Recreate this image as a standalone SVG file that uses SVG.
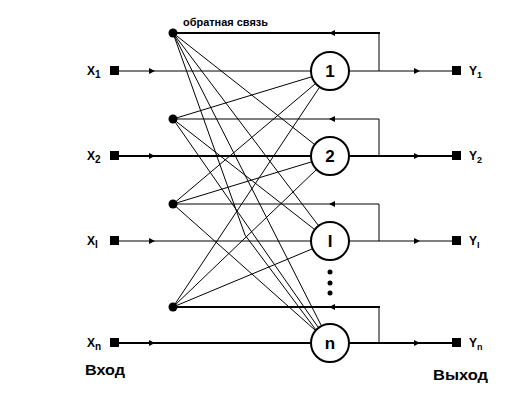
<svg xmlns="http://www.w3.org/2000/svg" width="515" height="411" viewBox="0 0 515 411">
<defs>
<style>
.ln{stroke:#000;fill:none;stroke-width:1}
.bd{stroke:#000;fill:none;stroke-width:2}
.cr{stroke:#000;fill:#fff;stroke-width:2}
.lbl{font-family:"Liberation Sans",Arial,sans-serif;font-weight:bold;fill:#000}
.nt{font-family:"Liberation Sans",Arial,sans-serif;font-weight:bold;font-size:17px;fill:#000;text-anchor:middle}
</style>
<path id="ar" d="M-3,-3 L3,0 L-3,3 Z" fill="#000"/>
<path id="al" d="M3,-3 L-3,0 L3,3 Z" fill="#000"/>
</defs>
<rect width="515" height="411" fill="#fff"/>

<g id="connectors">
<line class="ln" x1="119" y1="71" x2="311" y2="71"/>
<line class="bd" x1="119" y1="156" x2="311" y2="156"/>
<line class="ln" x1="119" y1="241" x2="311" y2="241"/>
<line class="bd" x1="119" y1="343" x2="311" y2="343"/>
<use href="#ar" x="152" y="71"/>
<use href="#ar" x="152" y="156"/>
<use href="#ar" x="152" y="241"/>
<use href="#ar" x="152" y="343"/>
<line class="ln" x1="349" y1="71" x2="453" y2="71"/>
<line class="bd" x1="349" y1="156" x2="453" y2="156"/>
<line class="ln" x1="349" y1="241" x2="453" y2="241"/>
<line class="bd" x1="349" y1="343" x2="453" y2="343"/>
<use href="#ar" x="417" y="71"/>
<use href="#ar" x="417" y="156"/>
<use href="#ar" x="417" y="241"/>
<use href="#ar" x="417" y="343"/>
<polyline class="ln" points="379,71 379,33"/>
<line class="bd" x1="173" y1="33" x2="380" y2="33"/>
<polyline class="ln" points="173,119 379,119 379,156"/>
<polyline class="ln" points="173,204 379,204 379,241"/>
<line class="ln" x1="379" y1="307" x2="379" y2="343"/>
<line class="bd" x1="173" y1="307" x2="380" y2="307"/>
<use href="#al" x="332" y="33"/>
<use href="#al" x="332" y="119"/>
<use href="#al" x="332" y="204"/>
<use href="#al" x="332" y="307"/>
<line class="ln" x1="173" y1="33" x2="314" y2="144"/>
<line class="ln" x1="173" y1="33" x2="318" y2="225"/>
<line class="ln" x1="173" y1="33" x2="321" y2="325"/>
<polyline class="ln" points="173,33 245,235 316,330"/>
<line class="ln" x1="173" y1="119" x2="311" y2="77"/>
<line class="ln" x1="173" y1="119" x2="314" y2="229"/>
<line class="ln" x1="173" y1="119" x2="318" y2="327"/>
<line class="ln" x1="173" y1="204" x2="315" y2="84"/>
<line class="ln" x1="173" y1="204" x2="311" y2="162"/>
<line class="ln" x1="173" y1="204" x2="315" y2="330"/>
<line class="ln" x1="173" y1="307" x2="319" y2="88"/>
<line class="ln" x1="173" y1="307" x2="316" y2="170"/>
<line class="ln" x1="173" y1="307" x2="312" y2="249"/>
</g>

<g id="feedback-dots">
<circle cx="173" cy="33" r="4.5"/>
<circle cx="173" cy="119" r="4.5"/>
<circle cx="173" cy="204" r="4.5"/>
<circle cx="173" cy="307" r="4.5"/>
</g>

<g id="inputs">
<rect x="110" y="66" width="9" height="9"/>
<rect x="110" y="151" width="9" height="9"/>
<rect x="110" y="236" width="9" height="9"/>
<rect x="110" y="338" width="9" height="9"/>
<text class="lbl" x="87" y="75" font-size="12">X<tspan font-size="10" dy="3">1</tspan></text>
<text class="lbl" x="87" y="160" font-size="12">X<tspan font-size="10" dy="3">2</tspan></text>
<text class="lbl" x="87" y="245" font-size="12">X<tspan font-size="10" dy="3">I</tspan></text>
<text class="lbl" x="87" y="347" font-size="12">X<tspan font-size="10" dy="3">n</tspan></text>
</g>

<g id="outputs">
<rect x="452" y="66" width="9" height="9"/>
<rect x="452" y="151" width="9" height="9"/>
<rect x="452" y="236" width="9" height="9"/>
<rect x="452" y="338" width="9" height="9"/>
<text class="lbl" x="469" y="75" font-size="12">Y<tspan font-size="9" dy="3">1</tspan></text>
<text class="lbl" x="469" y="160" font-size="12">Y<tspan font-size="9" dy="3">2</tspan></text>
<text class="lbl" x="469" y="245" font-size="12">Y<tspan font-size="9" dy="3">I</tspan></text>
<text class="lbl" x="469" y="347" font-size="12">Y<tspan font-size="9" dy="3">n</tspan></text>
</g>

<g id="neuron-1"><circle class="cr" cx="330" cy="71" r="19"/><text class="nt" x="330" y="77">1</text></g>
<g id="neuron-2"><circle class="cr" cx="330" cy="156" r="19"/><text class="nt" x="330" y="162">2</text></g>
<g id="neuron-i"><circle class="cr" cx="330" cy="241" r="19"/><text class="nt" x="330" y="247">I</text></g>
<g id="neuron-n"><circle class="cr" cx="330" cy="343" r="19"/><text class="nt" x="330" y="349">n</text></g>

<g id="ellipsis">
<circle cx="330" cy="272" r="2.5"/>
<circle cx="330" cy="283" r="2.5"/>
<circle cx="330" cy="293" r="2.5"/>
</g>

<text class="lbl" x="183" y="26" font-size="10" textLength="85" lengthAdjust="spacingAndGlyphs">обратная связь</text>
<text class="lbl" x="85" y="375" font-size="14" textLength="40" lengthAdjust="spacingAndGlyphs">Вход</text>
<text class="lbl" x="433" y="380" font-size="14" textLength="55" lengthAdjust="spacingAndGlyphs">Выход</text>
</svg>
